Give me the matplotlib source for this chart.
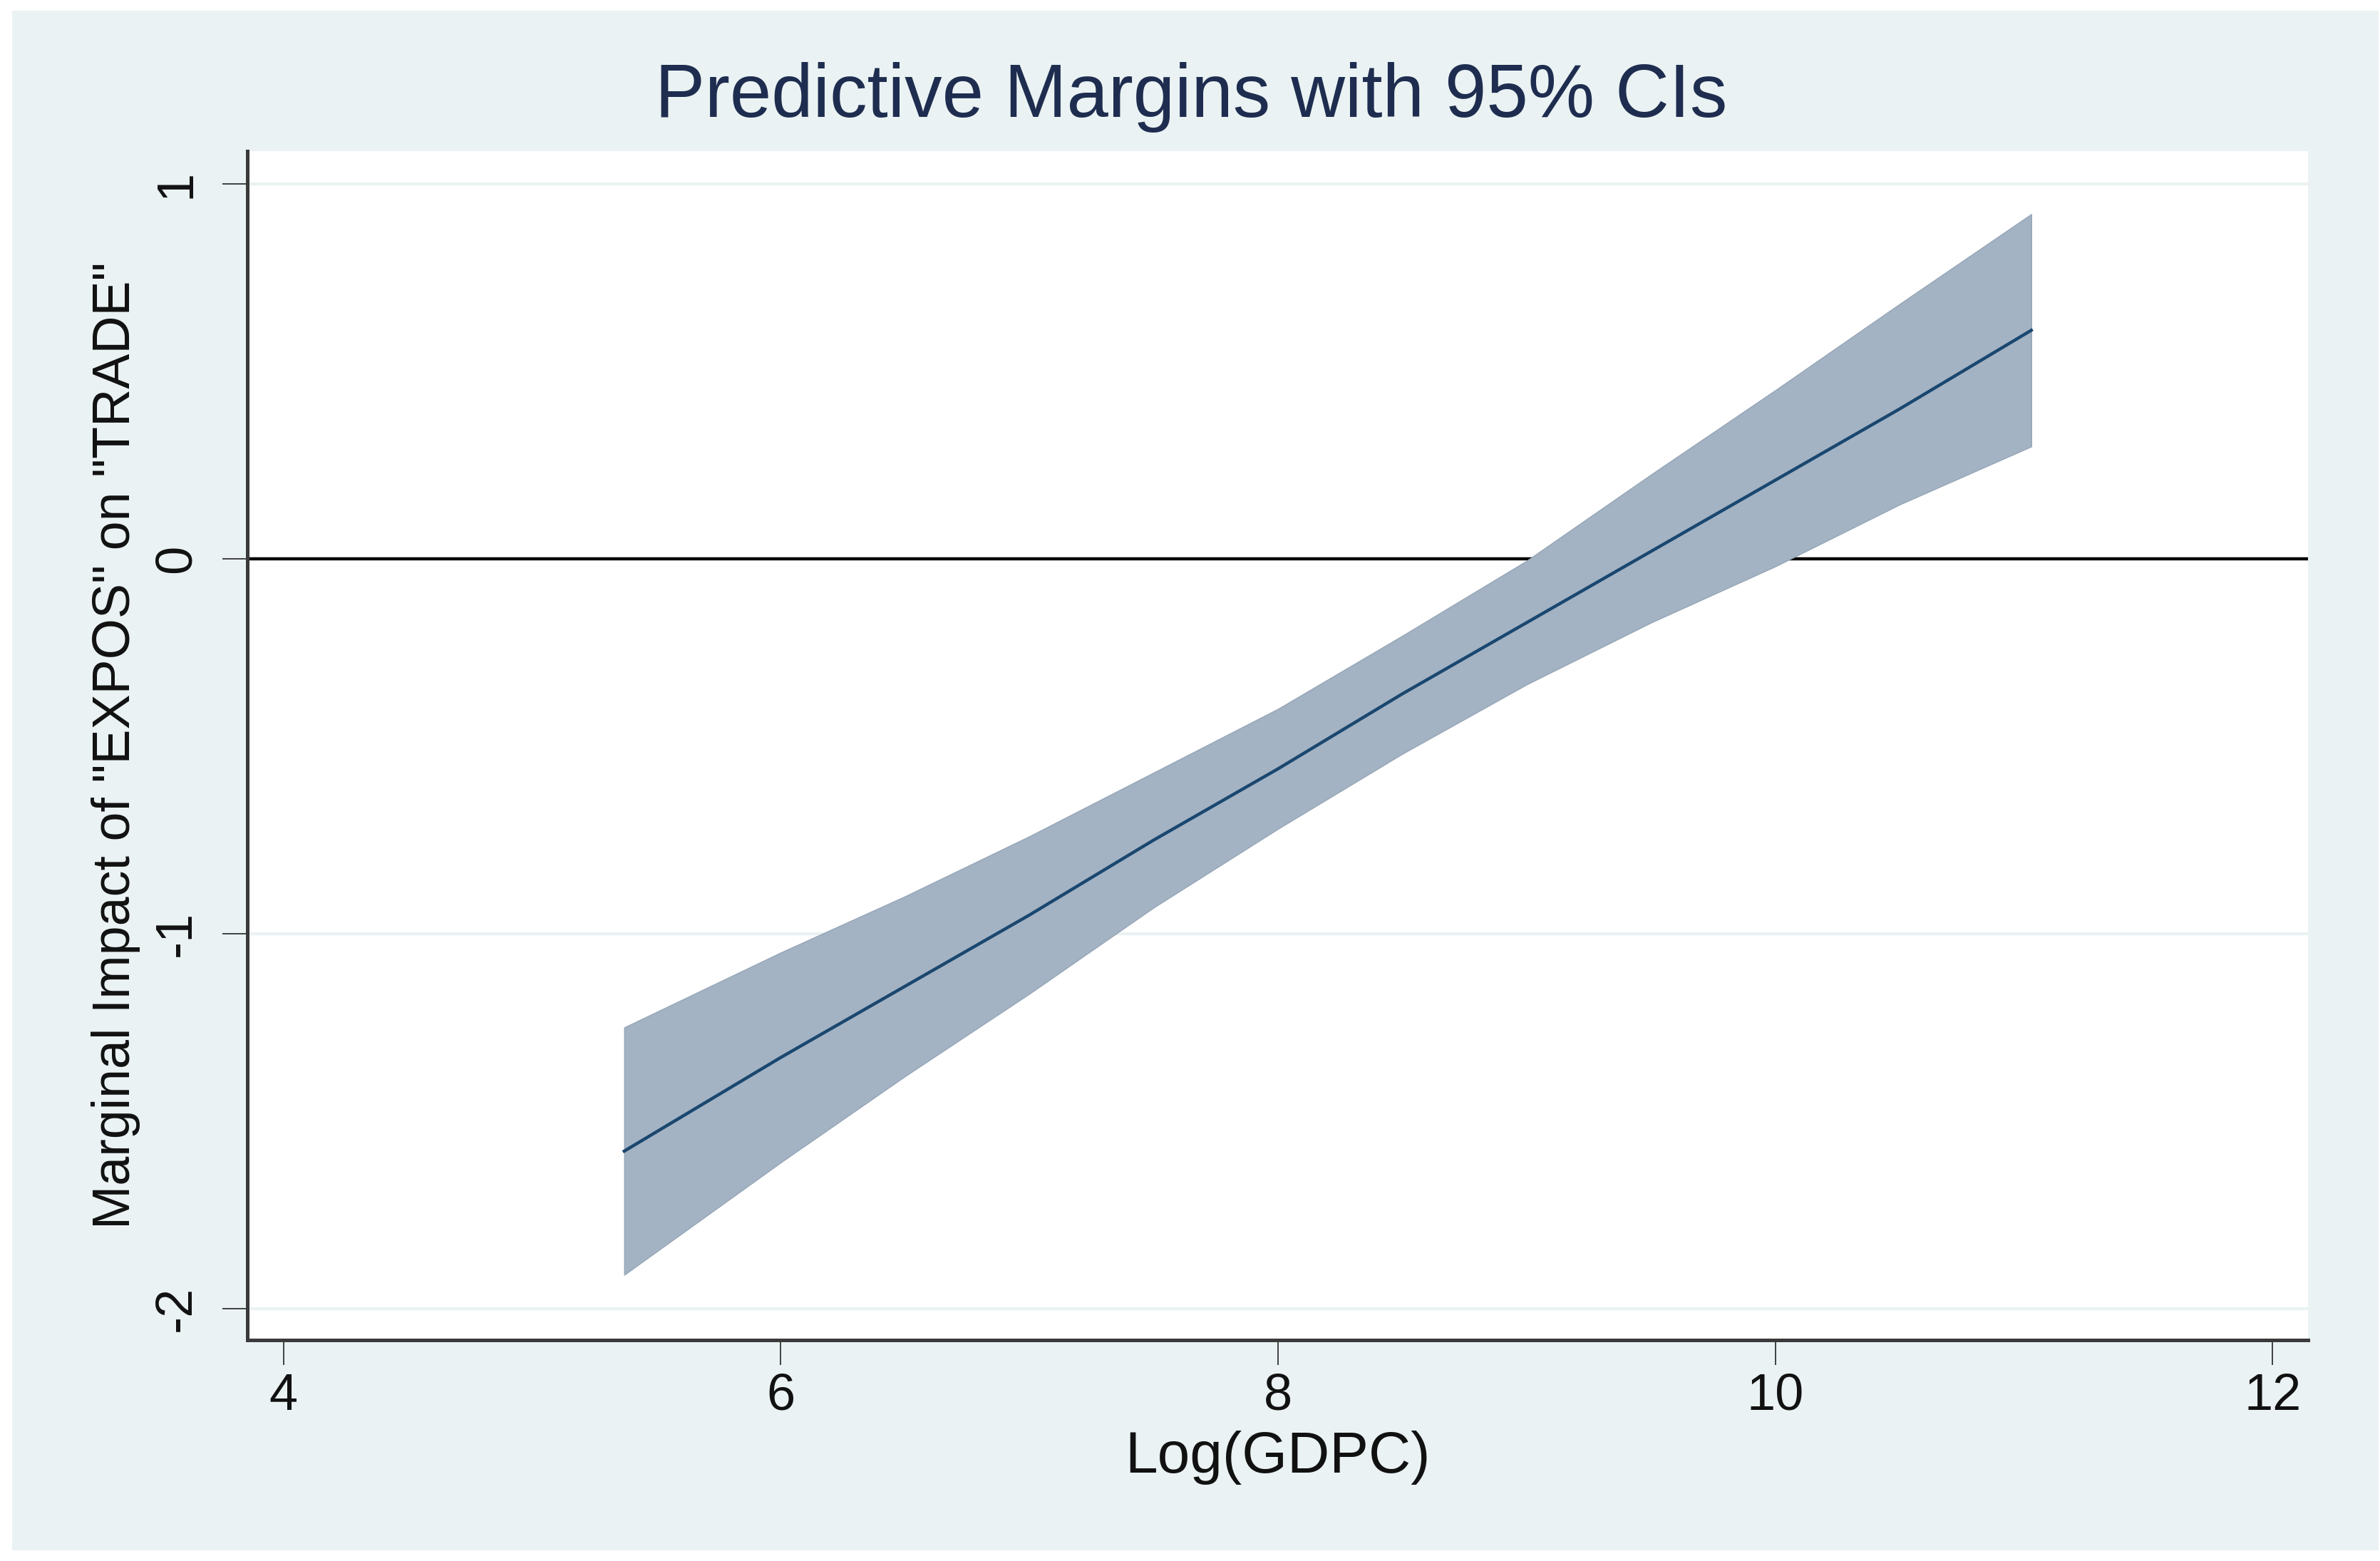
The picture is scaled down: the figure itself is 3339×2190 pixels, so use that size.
import numpy as np
import matplotlib
matplotlib.use("Agg")
import matplotlib.pyplot as plt
from matplotlib.patches import Rectangle

plt.rcParams['font.family'] = ['Liberation Sans', 'DejaVu Sans']

# values
gdpc = [5.37, 6.0, 6.5, 7.0, 7.5, 8.0, 8.5, 9.0, 9.5, 10.0, 10.5, 11.03]
margin = [-1.58, -1.33, -1.14, -0.95, -0.75, -0.56, -0.36, -0.17, 0.02, 0.21, 0.40, 0.61]
ci_low = [-1.91, -1.61, -1.38, -1.16, -0.93, -0.72, -0.52, -0.335, -0.17, -0.02, 0.145, 0.30]
ci_high = [-1.25, -1.05, -0.90, -0.74, -0.57, -0.40, -0.205, -0.005, 0.225, 0.45, 0.68, 0.92]
xticks = [4, 6, 8, 10, 12]
yticks = [-2, -1, 0, 1]

W, H = 3339, 2190
fig = plt.figure(figsize=(W / 100, H / 100), dpi=100, facecolor='white')

# stata-like light panel behind everything
fig.patches.append(Rectangle((17 / W, 1 - 2175 / H), (3337 - 17) / W, (2175 - 15) / H,
                             transform=fig.transFigure, facecolor='#EAF2F3',
                             edgecolor='none', zorder=-5))

ax = fig.add_axes([347 / W, 1 - 1880 / H, (3238 - 347) / W, (1880 - 212) / H])
ax.set_zorder(2)
ax.set_facecolor('white')

for yv in yticks:
    if yv != 0:
        ax.axhline(yv, color='#EAF2F3', lw=3, zorder=1)
ax.axhline(0, color='black', lw=3.2, zorder=2)

ax.fill_between(gdpc, ci_low, ci_high, color='#A3B3C4', edgecolor='#96A6B7', lw=1, zorder=3)
ax.plot(gdpc, margin, color='#1A476F', lw=3.2, zorder=4)

ax.set_xlim(3.854, 12.143)
ax.set_ylim(-2.084, 1.088)
ax.set_xticks(xticks)
ax.set_yticks(yticks)
ax.set_yticklabels([str(v) for v in yticks], rotation=90, va='center')

for s in ['top', 'right']:
    ax.spines[s].set_visible(False)
for s in ['left', 'bottom']:
    ax.spines[s].set_color('#3A3A3A')
    ax.spines[s].set_linewidth(3.6)

ax.tick_params(axis='both', length=25, width=1.3, color='#333333', labelsize=52, labelcolor='#111111')
ax.tick_params(axis='y', pad=22)
ax.tick_params(axis='x', pad=8)

ax.set_xlabel('Log(GDPC)', fontsize=59, color='#111111', labelpad=10)
ax.set_ylabel('Marginal Impact of "EXPOS" on "TRADE"', fontsize=53, color='#111111')
ax.yaxis.set_label_coords(-0.052, 0.5)

fig.text(1671 / W, 1 - 137 / H, 'Predictive Margins with 95% CIs', fontsize=75.5,
         color='#1E2D4F', ha='center', va='center')

fig.savefig('out.png', dpi=100, facecolor='white')
